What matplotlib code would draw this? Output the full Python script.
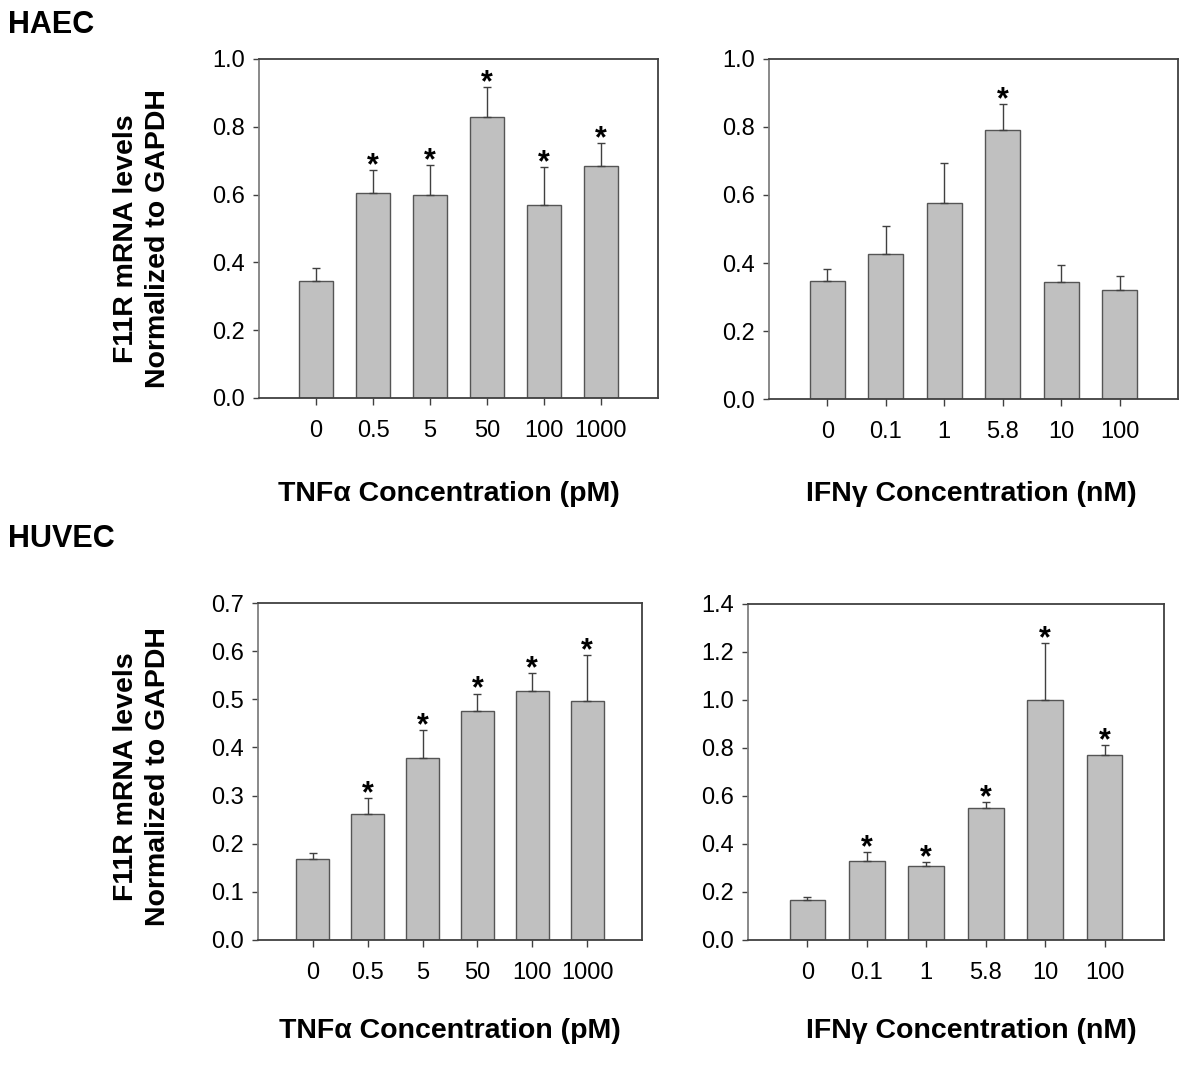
import numpy as np
import matplotlib
matplotlib.use("Agg")
import matplotlib.pyplot as plt
from matplotlib import font_manager

# valores (media y error superior)
dosis_tnf = ["0", "0.5", "5", "50", "100", "1000"]
dosis_ifn = ["0", "0.1", "1", "5.8", "10", "100"]

haec_tnf = [0.346, 0.606, 0.600, 0.829, 0.568, 0.684]
haec_tnf_err = [0.037, 0.066, 0.087, 0.087, 0.114, 0.068]
haec_tnf_sig = [0, 1, 1, 1, 1, 1]

haec_ifn = [0.346, 0.427, 0.575, 0.792, 0.345, 0.322]
haec_ifn_err = [0.037, 0.082, 0.120, 0.076, 0.050, 0.039]
haec_ifn_sig = [0, 0, 0, 1, 0, 0]

huvec_tnf = [0.168, 0.261, 0.378, 0.475, 0.518, 0.497]
huvec_tnf_err = [0.012, 0.033, 0.058, 0.037, 0.036, 0.094]
huvec_tnf_sig = [0, 1, 1, 1, 1, 1]

huvec_ifn = [0.167, 0.329, 0.307, 0.551, 1.000, 0.769]
huvec_ifn_err = [0.012, 0.036, 0.018, 0.022, 0.236, 0.045]
huvec_ifn_sig = [0, 1, 1, 1, 1, 1]

W, H = 1200, 1072

try:
    font_manager.findfont("Liberation Sans Narrow", fallback_to_default=False)
    fuente_ticks = "Liberation Sans Narrow"
    tam_ticks = 19
except Exception:
    fuente_ticks = "Liberation Sans"
    tam_ticks = 17

plt.rcParams["font.family"] = ["Liberation Sans", "DejaVu Sans"]


def caja(izq, der, arriba, abajo):
    return [izq / W, 1 - abajo / H, (der - izq) / W, (abajo - arriba) / H]


def panel(fig, pos, valores, errores, sig, etiquetas, ymax, paso):
    ax = fig.add_axes(pos)
    x = np.arange(len(valores))
    err = np.array(errores)
    ax.bar(x, valores, width=0.6, color="#c0c0c0", edgecolor="#555555",
           linewidth=1.0, zorder=2)
    ax.errorbar(x, valores, yerr=[np.zeros_like(err), err], fmt="none",
                ecolor="#404040", elinewidth=1.0, capsize=3, capthick=1.0,
                zorder=3)
    for xi, v, e, s in zip(x, valores, err, sig):
        if s:
            ax.annotate("*", (xi, v + e), xytext=(0, -3),
                        textcoords="offset points", ha="center",
                        va="baseline", fontsize=22, fontweight="bold")
    ax.set_xlim(-1, 6)
    ax.set_ylim(0, ymax)
    ax.set_xticks(x)
    ax.set_xticklabels(etiquetas)
    ax.set_yticks(np.arange(0, ymax + paso / 2, paso))
    ax.set_yticklabels([f"{t:.1f}" for t in np.arange(0, ymax + paso / 2, paso)])
    for lab in ax.get_xticklabels() + ax.get_yticklabels():
        lab.set_fontfamily(fuente_ticks)
        lab.set_fontsize(tam_ticks)
    ax.tick_params(axis="x", direction="out", length=5, width=1, pad=11,
                   color="#404040")
    ax.tick_params(axis="y", direction="out", length=4, width=1, pad=6,
                   color="#404040")
    ax.spines["left"].set_color("#808080")
    for lado in ["top", "right", "bottom"]:
        ax.spines[lado].set_color("#404040")
    for lado in ax.spines:
        ax.spines[lado].set_linewidth(1.3)
    return ax


fig = plt.figure(figsize=(12, 10.72), dpi=100)

panel(fig, caja(259, 658, 59, 398), haec_tnf, haec_tnf_err, haec_tnf_sig,
      dosis_tnf, 1.0, 0.2)
panel(fig, caja(769, 1178, 59, 399), haec_ifn, haec_ifn_err, haec_ifn_sig,
      dosis_ifn, 1.0, 0.2)
panel(fig, caja(258, 642, 603, 940), huvec_tnf, huvec_tnf_err, huvec_tnf_sig,
      dosis_tnf, 0.7, 0.1)
panel(fig, caja(748, 1164, 604, 940), huvec_ifn, huvec_ifn_err, huvec_ifn_sig,
      dosis_ifn, 1.4, 0.2)

# titulos de fila
fig.text(8 / W, 1 - 10 / H, "HAEC", fontsize=22, fontweight="bold",
         ha="left", va="top")
fig.text(8 / W, 1 - 524 / H, "HUVEC", fontsize=22, fontweight="bold",
         ha="left", va="top")

# etiquetas de ejes
ylab = "F11R mRNA levels\nNormalized to GAPDH"
for yc in [239, 777]:
    fig.text(142 / W, 1 - yc / H, ylab, rotation=90, fontsize=20.5,
             fontweight="bold", ha="center", va="center",
             multialignment="center", linespacing=1.3)

for xc, yc, txt in [(449, 494, "TNFα Concentration (pM)"),
                    (971, 494, "IFNγ Concentration (nM)"),
                    (450, 1031, "TNFα Concentration (pM)"),
                    (971, 1031, "IFNγ Concentration (nM)")]:
    fig.text(xc / W, 1 - yc / H, txt, fontsize=20.5, fontweight="bold",
             ha="center", va="center")

fig.savefig("out.png", dpi=100)
